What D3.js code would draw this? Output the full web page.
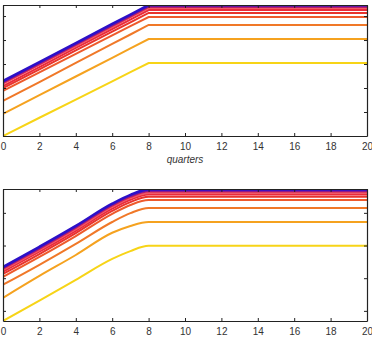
<!DOCTYPE html>
<html>
<head>
<meta charset="utf-8">
<script src="https://cdn.jsdelivr.net/npm/d3@7"></script>
<style>
  body { margin: 0; background: #fff; }
  svg { display: block; }
  .tick text { font-family: "Liberation Sans", Arial, sans-serif; font-size: 10px; fill: #333; }
  .domain { stroke: #222; stroke-width: 1.2; }
  .tick line { stroke: #222; }
</style>
</head>
<body>
<svg id="chart"></svg>
<script>
const width = 372;
const height = 339;

// quarters at which each path is sampled
const quarters = [0, 2, 4, 6, 7, 8, 20];

const colors = ["#f7d417", "#f5a21f", "#f07828", "#ee5a2c", "#e8342c",
                "#ea2a3a", "#f05a66", "#cc1f58", "#7a1a9a", "#2c10c8"];

// upper panel
const topSeries = [
    [0.00, 0.76, 1.52, 2.28, 2.66, 3.04, 3.04],
    [0.92, 1.70, 2.48, 3.26, 3.65, 4.04, 4.04],
    [1.46, 2.25, 3.05, 3.84, 4.23, 4.63, 4.63],
    [1.88, 2.65, 3.42, 4.19, 4.58, 4.96, 4.96],
    [2.00, 2.78, 3.57, 4.35, 4.74, 5.13, 5.13],
    [2.08, 2.87, 3.67, 4.46, 4.85, 5.25, 5.25],
    [2.17, 2.96, 3.75, 4.54, 4.94, 5.33, 5.33],
    [2.21, 3.00, 3.80, 4.59, 4.98, 5.38, 5.38],
    [2.25, 3.04, 3.83, 4.62, 5.02, 5.41, 5.41],
    [2.29, 3.08, 3.87, 4.67, 5.06, 5.46, 5.46]
];

// lower panel
const bottomSeries = [
    [-0.31, 0.31, 0.95, 1.59, 1.83, 1.99, 1.99],
    [0.40, 1.07, 1.71, 2.39, 2.60, 2.72, 2.72],
    [0.80, 1.41, 2.05, 2.72, 2.99, 3.15, 3.15],
    [1.04, 1.65, 2.29, 2.97, 3.24, 3.39, 3.39],
    [1.13, 1.74, 2.38, 3.06, 3.33, 3.49, 3.49],
    [1.20, 1.81, 2.45, 3.13, 3.40, 3.56, 3.56],
    [1.25, 1.86, 2.50, 3.18, 3.45, 3.61, 3.61],
    [1.29, 1.90, 2.54, 3.22, 3.49, 3.65, 3.65],
    [1.32, 1.93, 2.57, 3.25, 3.52, 3.68, 3.68],
    [1.34, 1.96, 2.60, 3.28, 3.55, 3.72, 3.72]
];

const xTicks = [0, 2, 4, 6, 8, 10, 12, 14, 16, 18, 20];

const svg = d3.select("#chart")
    .attr("width", width)
    .attr("height", height);

const x = d3.scaleLinear().domain([0, 20]).range([3, 367]);

function panel(id, series, yDomain, top, bottom, xlabel, curve) {
    const y = d3.scaleLinear().domain(yDomain).range([bottom, top]);
    const g = svg.append("g");

    g.append("clipPath").attr("id", id)
        .append("rect")
        .attr("x", x(0)).attr("y", top)
        .attr("width", x(20) - x(0)).attr("height", bottom - top);

    const line = d3.line()
        .x((d, i) => x(quarters[i]))
        .y(d => y(d))
        .curve(curve);

    g.append("g")
        .attr("clip-path", `url(#${id})`)
        .selectAll("path")
        .data(series)
        .enter().append("path")
        .attr("d", line)
        .attr("fill", "none")
        .attr("stroke", (d, i) => colors[i])
        .attr("stroke-width", (d, i) => i === series.length - 1 ? 2.6 : 2);

    g.append("g")
        .attr("transform", `translate(0,${bottom})`)
        .call(d3.axisBottom(x).tickValues(xTicks).tickSize(-3).tickPadding(7).tickSizeOuter(0));
    g.append("g")
        .attr("transform", `translate(0,${top})`)
        .call(d3.axisTop(x).tickValues(xTicks).tickSize(-3).tickFormat("").tickSizeOuter(0));
    g.append("g")
        .attr("transform", `translate(${x(0)},0)`)
        .call(d3.axisLeft(y).ticks(5).tickSize(-3).tickFormat("").tickSizeOuter(0));
    g.append("g")
        .attr("transform", `translate(${x(20)},0)`)
        .call(d3.axisRight(y).ticks(5).tickSize(-3).tickFormat("").tickSizeOuter(0));

    g.append("text")
        .attr("x", 185)
        .attr("y", bottom + 27)
        .attr("text-anchor", "middle")
        .style("font-family", "'Liberation Sans', Arial, sans-serif")
        .style("font-size", "10px")
        .style("font-style", "italic")
        .style("fill", "#333")
        .text(xlabel);
}

panel("clipTop", topSeries, [0, 5.46], 5, 136, "quarters", d3.curveLinear);
panel("clipBottom", bottomSeries, [-0.31, 3.73], 189, 321, "quarters", d3.curveMonotoneX);
</script>
</body>
</html>
